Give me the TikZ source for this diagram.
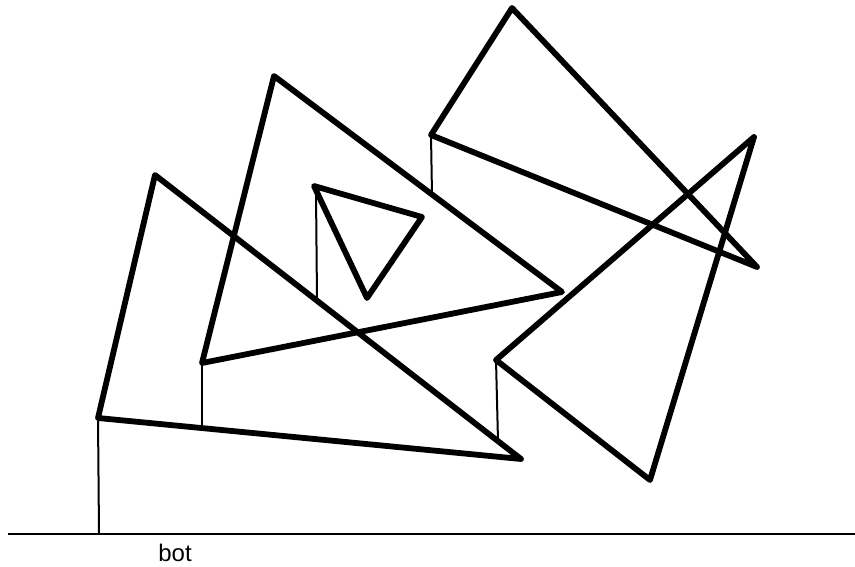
\documentclass[tikz,border=0pt]{standalone}
\usepackage{fontspec}
\setmainfont{Liberation Sans}
\begin{document}
\begin{tikzpicture}[x=1pt,y=-1pt,
  tri/.style={line width=5.8pt,line join=round,line cap=round},
  drop/.style={line width=2pt},
  ground/.style={line width=2.4pt}]
\useasboundingbox (0,0) rectangle (855,567);
% vertices
\coordinate (a1) at (98,418);
\coordinate (a2) at (155,175);
\coordinate (a3) at (521,459);
\coordinate (b1) at (202,363);
\coordinate (b2) at (274,76);
\coordinate (b3) at (562,292);
\coordinate (c1) at (314,186);
\coordinate (c2) at (422,217);
\coordinate (c3) at (367,298);
\coordinate (d1) at (431,135);
\coordinate (d2) at (512,8);
\coordinate (d3) at (757,267);
\coordinate (e1) at (496,360);
\coordinate (e2) at (754,137);
\coordinate (e3) at (650,480);
% drop line tops / feet
\coordinate (ct) at (316,192);
\coordinate (fa) at (99,534);
\coordinate (fb) at (202,428);
\coordinate (fc) at (317,300);
\coordinate (fd) at (432,195);
\coordinate (fe) at (498,441);
\coordinate (gl) at (8,534);
\coordinate (gr) at (855,534);
% drop lines
\draw[drop] (a1) -- (fa);
\draw[drop] (b1) -- (fb);
\draw[drop] (ct) -- (fc);
\draw[drop] (d1) -- (fd);
\draw[drop] (e1) -- (fe);
% ground
\draw[ground] (gl) -- (gr);
\node[font=\fontsize{24}{28}\selectfont] (bot) at (175,553) {bot};
% triangles
\draw[tri] (a1) -- (a2) -- (a3) -- cycle;
\draw[tri] (b1) -- (b2) -- (b3) -- cycle;
\draw[tri] (c1) -- (c2) -- (c3) -- cycle;
\draw[tri] (d1) -- (d2) -- (d3) -- cycle;
\draw[tri] (e1) -- (e2) -- (e3) -- cycle;
\end{tikzpicture}
\end{document}
